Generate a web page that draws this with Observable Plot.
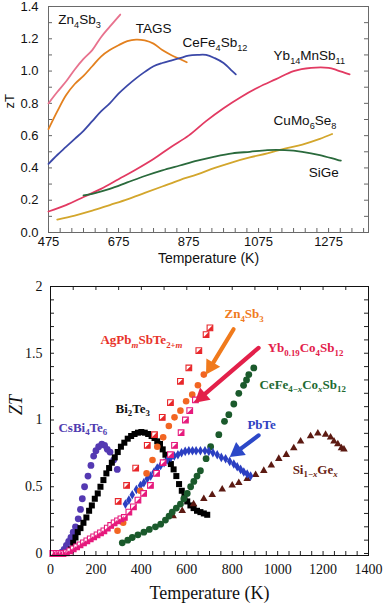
<!DOCTYPE html>
<html><head><meta charset="utf-8">
<script src="https://cdn.jsdelivr.net/npm/d3@7"></script>
<script src="https://cdn.jsdelivr.net/npm/@observablehq/plot@0.6"></script>
<style>
body{margin:0;background:#fff;}
#chart{width:386px;height:606px;overflow:hidden;background:#fff;}
svg{display:block;}
</style></head><body><div id="chart"></div>
<script>
// ---------- TOP PANEL DATA (zT vs Temperature, K) ----------
const topZnT   = [475, 500, 525, 550, 575, 600, 625, 650, 680];
const topZnZ   = [0.80, 0.87, 0.935, 1.01, 1.075, 1.13, 1.21, 1.275, 1.35];
const topTagsT = [475, 500, 525, 550, 575, 600, 625, 650, 675, 700, 725, 750, 775, 800, 825, 850, 870];
const topTagsZ = [0.64, 0.75, 0.85, 0.92, 0.97, 1.03, 1.09, 1.13, 1.16, 1.185, 1.195, 1.19, 1.17, 1.13, 1.10, 1.075, 1.055];
const topCeT   = [475, 500, 525, 550, 575, 600, 625, 650, 675, 700, 725, 750, 775, 800, 825, 850, 875, 900, 925, 950, 975, 1000, 1010];
const topCeZ   = [0.425, 0.48, 0.53, 0.58, 0.63, 0.69, 0.75, 0.80, 0.86, 0.91, 0.955, 0.995, 1.03, 1.05, 1.065, 1.08, 1.095, 1.10, 1.10, 1.08, 1.05, 1.00, 0.98];
const topYbT   = [475, 525, 575, 625, 675, 725, 775, 825, 875, 925, 975, 1025, 1075, 1125, 1175, 1225, 1275, 1300, 1335];
const topYbZ   = [0.13, 0.17, 0.22, 0.27, 0.33, 0.39, 0.455, 0.53, 0.60, 0.69, 0.77, 0.84, 0.90, 0.95, 1.00, 1.02, 1.02, 1.005, 0.98];
const topCuT   = [500, 550, 600, 650, 700, 750, 800, 850, 900, 950, 1000, 1050, 1100, 1150, 1200, 1250, 1285];
const topCuZ   = [0.08, 0.105, 0.135, 0.17, 0.205, 0.245, 0.285, 0.325, 0.36, 0.40, 0.435, 0.465, 0.49, 0.52, 0.545, 0.58, 0.61];
const topSiT   = [575, 600, 650, 700, 750, 800, 850, 900, 950, 1000, 1050, 1100, 1150, 1200, 1250, 1300, 1310];
const topSiZ   = [0.23, 0.24, 0.27, 0.31, 0.35, 0.385, 0.415, 0.445, 0.47, 0.49, 0.50, 0.51, 0.51, 0.50, 0.48, 0.45, 0.445];

const topNames  = ["Zn4Sb3", "TAGS", "CeFe4Sb12", "Yb14MnSb11", "CuMo6Se8", "SiGe"];
const topLabels = ["Zn_{4}Sb_{3}", "TAGS", "CeFe_{4}Sb_{12}", "Yb_{14}MnSb_{11}", "CuMo_{6}Se_{8}", "SiGe"];
const topLabelT = [503, 724, 858, 1118, 1118, 1218];
const topLabelZ = [1.32, 1.265, 1.175, 1.095, 0.69, 0.372];
const topXTicks = [475, 675, 875, 1075, 1275];
const topYTicks = [0, 0.2, 0.4, 0.6, 0.8, 1.0, 1.2, 1.4];
const topXTitle = "Temperature (K)";
const topYTitle = "zT";

// ---------- BOTTOM PANEL DATA (ZT vs Temperature, K) ----------
const csbiT = [40, 50, 60, 70, 80, 90, 100, 110, 122, 132, 140, 150, 165, 178, 190, 200, 212, 226, 238, 250, 262, 278, 294];
const csbiZ = [0.0, 0.01, 0.03, 0.06, 0.09, 0.12, 0.16, 0.2, 0.26, 0.33, 0.41, 0.5, 0.58, 0.66, 0.73, 0.77, 0.80, 0.82, 0.81, 0.78, 0.76, 0.70, 0.63];
const bitT = [90, 100, 110, 120, 132, 145, 158, 170, 182, 195, 208, 220, 233, 246, 258, 270, 283, 296, 310, 325, 340, 355, 370, 385, 400, 415, 430, 445, 458, 470, 482, 494, 506, 518, 530, 542, 554, 566, 578, 590, 602, 616, 630, 645, 660, 675, 690];
const bitZ = [0.03, 0.08, 0.12, 0.16, 0.19, 0.23, 0.27, 0.32, 0.36, 0.41, 0.45, 0.5, 0.55, 0.6, 0.64, 0.68, 0.72, 0.76, 0.8, 0.83, 0.86, 0.88, 0.895, 0.905, 0.91, 0.905, 0.895, 0.88, 0.865, 0.84, 0.82, 0.78, 0.74, 0.71, 0.67, 0.63, 0.58, 0.52, 0.47, 0.43, 0.39, 0.36, 0.34, 0.32, 0.31, 0.30, 0.29];
const agT = [298, 335, 375, 426, 458, 492, 528, 572, 609, 653, 685, 702];
const agZ = [0.39, 0.51, 0.64, 0.81, 0.89, 1.02, 1.13, 1.29, 1.39, 1.52, 1.64, 1.69];
const znT = [295, 320, 395, 423, 449, 470, 496, 521, 546, 572, 597, 624, 649, 675];
const znZ = [0.17, 0.23, 0.47, 0.6, 0.7, 0.8, 0.87, 0.955, 1.02, 1.07, 1.14, 1.19, 1.26, 1.34];
const ybT = [10, 25, 40, 55, 70, 85, 100, 115, 130, 145, 160, 175, 190, 205, 220, 235, 250, 265, 280, 295, 310, 325, 345, 365, 385, 410, 440, 467, 496, 528, 546, 575, 594, 613, 638];
const ybZ = [0, 0, 0, 0, 0.005, 0.02, 0.035, 0.05, 0.065, 0.08, 0.095, 0.11, 0.125, 0.14, 0.155, 0.17, 0.19, 0.21, 0.23, 0.245, 0.26, 0.27, 0.31, 0.35, 0.40, 0.45, 0.51, 0.6, 0.68, 0.74, 0.81, 0.905, 1.0, 1.07, 1.15];
const ceT = [316, 340, 360, 385, 411, 435, 462, 485, 506, 522, 536, 554, 572, 587, 602, 617, 631, 645, 660, 685, 705, 741, 766, 785, 807, 829, 850, 863, 873, 895];
const ceZ = [0.08, 0.1, 0.12, 0.14, 0.16, 0.18, 0.2, 0.22, 0.25, 0.28, 0.31, 0.34, 0.37, 0.41, 0.45, 0.5, 0.54, 0.58, 0.62, 0.71, 0.80, 0.89, 0.99, 1.04, 1.12, 1.2, 1.26, 1.30, 1.34, 1.39];
const pbT = [330, 345, 360, 378, 396, 411, 426, 441, 456, 470, 485, 500, 514, 530, 545, 561, 577, 593, 609, 625, 641, 660, 680, 697, 715, 734, 752, 771, 789, 807, 822, 837, 851, 866, 881];
const pbZ = [0.37, 0.40, 0.44, 0.48, 0.51, 0.53, 0.56, 0.58, 0.61, 0.64, 0.66, 0.68, 0.70, 0.72, 0.73, 0.74, 0.755, 0.765, 0.77, 0.77, 0.77, 0.77, 0.77, 0.765, 0.755, 0.74, 0.72, 0.71, 0.69, 0.67, 0.65, 0.63, 0.61, 0.595, 0.58];
const sigeT = [540, 580, 630, 675, 712, 756, 800, 829, 866, 903, 939, 972, 1005, 1038, 1071, 1101, 1145, 1177, 1211, 1233, 1248, 1265, 1281, 1292];
const sigeZ = [0.28, 0.32, 0.37, 0.41, 0.44, 0.48, 0.51, 0.53, 0.56, 0.59, 0.62, 0.66, 0.71, 0.74, 0.79, 0.84, 0.88, 0.90, 0.89, 0.87, 0.84, 0.82, 0.79, 0.78];

const botLabels = ["CsBi_{4}Te_{6}", "Bi_{2}Te_{3}", "AgPb_{*m*}SbTe_{2+*m*}", "Zn_{4}Sb_{3}", "Yb_{0.19}Co_{4}Sb_{12}", "CeFe_{4−*x*}Co_{*x*}Sb_{12}", "PbTe", "Si_{1−*x*}Ge_{*x*}"];
const botLabelT = [35, 286, 220, 766, 956, 920, 867, 1066];
const botLabelZ = [0.945, 1.085, 1.60, 1.795, 1.54, 1.265, 0.965, 0.63];
const arrowFromT = [806, 916, 916];
const arrowFromZ = [1.68, 1.54, 0.885];
const arrowToT   = [706, 666, 822];
const arrowToZ   = [1.40, 1.175, 0.765];
const botXTicks = [0, 200, 400, 600, 800, 1000, 1200, 1400];
const botYTicks = [0, 0.5, 1, 1.5, 2];
const botXTitle = "Temperature (K)";
const botYTitle = "ZT";

// ---------- STYLES ----------
const sans = "'Liberation Sans', Arial, Helvetica, sans-serif";
const serif = "'Liberation Serif', 'Times New Roman', Times, serif";
const topColors = ["#e8728e", "#e3801e", "#3b48a8", "#e23a62", "#d3a62c", "#2a6a3c"];
const C = {cs:"#5439b2", bi:"#000000", ag:"#e8262a", zn:"#f26522", yb:"#e6197c", ce:"#1b5a2c", pb:"#2b3fc2", sige:"#5c1a12"};
const botLabelColors = ["#4f3bb0", "#111111", "#e8332a", "#f07a1c", "#e3204a", "#1d6a32", "#3042c2", "#6a1e12"];
const arrowColors = ["#f07a1c", "#e3204a", "#2c48c8"];

const zip = (T, Z, extra={}) => T.map((t, i) => ({T: t, Z: Z[i], ...extra}));

// rich text: _{...} subscript, *...* italic
function richify(svg, fs) {
  const ns = "http://www.w3.org/2000/svg";
  svg.querySelectorAll("text").forEach(el => {
    if (el.querySelector("tspan")) return;
    const s = el.textContent;
    if (!/_\{|\*/.test(s)) return;
    const size = parseFloat(el.getAttribute("font-size")) || fs;
    el.textContent = "";
    let inSub = false;
    for (const part of s.split(/(_\{[^}]*\})/)) {
      if (!part) continue;
      const isSub = part.startsWith("_{");
      const body = isSub ? part.slice(2, -1) : part;
      for (const q of body.split(/(\*[^*]*\*)/)) {
        if (!q) continue;
        const it = q.startsWith("*");
        const ts = document.createElementNS(ns, "tspan");
        ts.textContent = it ? q.slice(1, -1) : q;
        if (isSub) ts.setAttribute("font-size", (size * 0.68).toFixed(2));
        if (it) ts.setAttribute("font-style", "italic");
        if (isSub && !inSub) ts.setAttribute("dy", (size * 0.28).toFixed(2));
        if (!isSub && inSub) ts.setAttribute("dy", (-size * 0.28).toFixed(2));
        inSub = isSub;
        el.appendChild(ts);
      }
    }
  });
}

// ---------- TOP PLOT ----------
const topW = 386, topH = 270, tM = {l: 48, r: 18, t: 6, b: 38};
const tFW = topW - tM.l - tM.r, tFH = topH - tM.t - tM.b;
const topSeries = [[topZnT, topZnZ], [topTagsT, topTagsZ], [topCeT, topCeZ], [topYbT, topYbZ], [topCuT, topCuZ], [topSiT, topSiZ]];
const topData = topSeries.flatMap(([T, Z], k) => zip(T, Z, {series: topNames[k], color: topColors[k]}));
const topLab = topLabels.map((l, i) => ({label: l, T: topLabelT[i], Z: topLabelZ[i]}));
const topXMinor = d3.range(475, 1390, 200 / 6);
const topYMinor = d3.range(0, 1.401, 0.1);

const topPlot = Plot.plot({
  width: topW, height: topH,
  marginLeft: tM.l, marginRight: tM.r, marginTop: tM.t, marginBottom: tM.b,
  style: {fontFamily: sans, background: "#fff", color: "#111"},
  x: {domain: [475, 1389]},
  y: {domain: [0, 1.4]},
  marks: [
    Plot.frame({stroke: "#6a6a6a"}),
    Plot.tickX(topXMinor, {x: d => d, insetTop: tFH - 4, stroke: "#666"}),
    Plot.tickY(topYMinor, {y: d => d, insetRight: tFW - 4, stroke: "#666"}),
    Plot.tickY(topYMinor, {y: d => d, insetLeft: tFW - 4, stroke: "#666"}),
    Plot.line(topData, {x: "T", y: "Z", z: "series", stroke: "color", strokeWidth: 1.8, curve: "catmull-rom"}),
    Plot.axisX(topXTicks, {anchor: "bottom", tickSize: 0, tickPadding: 4, fontSize: 13, tickFormat: d => String(d), label: null}),
    Plot.axisY(topYTicks, {anchor: "left", tickSize: 0, tickPadding: 10, fontSize: 13, tickFormat: d => d.toFixed(1), label: null}),
    Plot.text([topXTitle], {text: d => d, frameAnchor: "bottom", dy: 30, fontSize: 14, fill: "#111"}),
    Plot.text([topYTitle], {text: d => d, frameAnchor: "left", rotate: -90, dx: -39, dy: -11, fontSize: 13, fill: "#111"}),
    Plot.text(topLab, {x: "T", y: "Z", text: "label", textAnchor: "start", fontSize: 13.5, fill: "#111"})
  ]
});
richify(topPlot, 13.5);

// ---------- BOTTOM PLOT ----------
const botW = 386, botH = 336, bM = {l: 50, r: 18, t: 16, b: 51};
const bFW = botW - bM.l - bM.r, bFH = botH - bM.t - bM.b;
const yDom = [-0.015, 2];
const halfTri = {draw(ctx, size) { const w = Math.sqrt(size) / 2; ctx.moveTo(w, -w); ctx.lineTo(w, w); ctx.lineTo(-w, w); ctx.closePath(); }};
const botLab = botLabels.map((l, i) => ({label: l, T: botLabelT[i], Z: botLabelZ[i], color: botLabelColors[i]}));
const kx = bFW / 1400, ky = bFH / (yDom[1] - yDom[0]);
const arrows = arrowFromT.map((t, i) => ({
  x1: t, y1: arrowFromZ[i], x2: arrowToT[i], y2: arrowToZ[i], color: arrowColors[i],
  angle: Math.atan2((arrowToT[i] - t) * kx, (arrowToZ[i] - arrowFromZ[i]) * ky) * 180 / Math.PI
}));
const botXMinor = d3.range(0, 1401, 50);
const botXMinorTop = d3.range(0, 1401, 100);
const botYMinor = d3.range(0, 2.001, 0.1);

const botPlot = Plot.plot({
  width: botW, height: botH,
  marginLeft: bM.l, marginRight: bM.r, marginTop: bM.t, marginBottom: bM.b,
  style: {fontFamily: serif, background: "#fff", color: "#111"},
  x: {domain: [0, 1400]},
  y: {domain: yDom},
  marks: [
    Plot.tickX(botXMinor, {x: d => d, insetTop: bFH - 4, stroke: "#222"}),
    Plot.tickX(botXMinorTop, {x: d => d, insetBottom: bFH - 4, stroke: "#222"}),
    Plot.tickY(botYMinor, {y: d => d, insetRight: bFW - 4, stroke: "#222"}),
    Plot.tickY(botYMinor, {y: d => d, insetLeft: bFW - 4, stroke: "#222"}),
    Plot.dot(zip(csbiT, csbiZ), {x: "T", y: "Z", r: 3.4, fill: C.cs}),
    Plot.dot(zip(bitT, bitZ), {x: "T", y: "Z", symbol: "square", r: 3.4, fill: C.bi}),
    Plot.dot(zip(sigeT, sigeZ), {x: "T", y: "Z", symbol: "triangle", r: 2.8, fill: C.sige}),
    Plot.dot(zip(ceT, ceZ), {x: "T", y: "Z", r: 3.4, fill: C.ce}),
    Plot.dot(zip(pbT, pbZ), {x: "T", y: "Z", symbol: "diamond", r: 2.9, fill: C.pb}),
    Plot.dot(zip(znT, znZ), {x: "T", y: "Z", r: 3.3, fill: C.zn}),
    Plot.dot(zip(agT, agZ), {x: "T", y: "Z", symbol: "square", r: 3.2, fill: "#fff", stroke: C.ag, strokeWidth: 1.1}),
    Plot.dot(zip(agT, agZ), {x: "T", y: "Z", symbol: halfTri, r: 3.2, fill: C.ag}),
    Plot.dot(zip(ybT, ybZ), {x: "T", y: "Z", symbol: "square", r: 3.2, fill: "#fff", stroke: C.yb, strokeWidth: 1.1}),
    Plot.dot(zip(ybT, ybZ), {x: "T", y: "Z", symbol: halfTri, r: 3.2, fill: C.yb}),
    Plot.link(arrows, {x1: "x1", y1: "y1", x2: "x2", y2: "y2", stroke: "color", strokeWidth: 4.2, strokeLinecap: "round"}),
    Plot.dot(arrows, {x: "x2", y: "y2", symbol: "triangle", r: 6, fill: "color", rotate: "angle"}),
    Plot.frame({stroke: "#111"}),
    Plot.axisX(botXTicks, {anchor: "bottom", tickSize: 0, tickPadding: 9, fontSize: 14, tickFormat: d => String(d), label: null}),
    Plot.axisY(botYTicks, {anchor: "left", tickSize: 0, tickPadding: 8, fontSize: 14, tickFormat: d => String(d), label: null}),
    Plot.text([botXTitle], {text: d => d, frameAnchor: "bottom", dy: 43, fontSize: 18, fill: "#111"}),
    Plot.text([botYTitle], {text: d => d, frameAnchor: "left", rotate: -90, dx: -34, dy: -6, fontSize: 18, fontStyle: "italic", fill: "#111"}),
    Plot.text(botLab, {x: "T", y: "Z", text: "label", textAnchor: "start", fontSize: 13, fontWeight: "bold", fill: "color"})
  ]
});
richify(botPlot, 13);

const chart = document.getElementById("chart");
chart.appendChild(topPlot);
chart.appendChild(botPlot);
</script></body></html>
